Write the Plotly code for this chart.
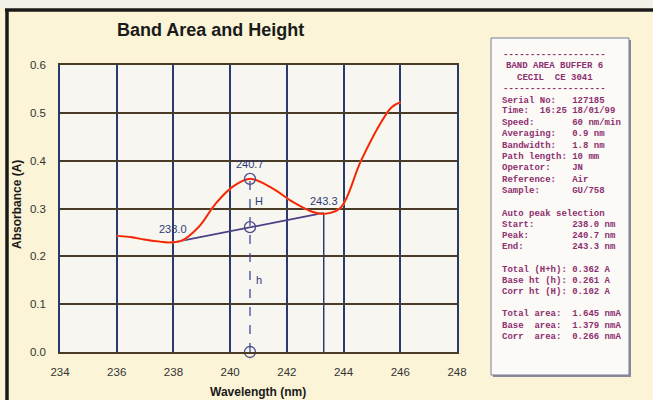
import plotly.graph_objects as go

# ---------------- data ----------------
wavelength = [236.0, 236.5, 237.0, 237.5, 237.9, 238.3, 238.9, 239.5, 240.1, 240.7,
              241.5, 242.2, 242.9, 243.35, 243.9, 244.6, 245.3, 245.7, 246.0]
absorbance = [0.243, 0.240, 0.235, 0.231, 0.229, 0.233, 0.262, 0.311, 0.346, 0.362,
              0.342, 0.314, 0.293, 0.289, 0.302, 0.398, 0.478, 0.512, 0.522]

start_wl, peak_wl, end_wl = 238.0, 240.7, 243.3
start_abs, end_abs = 0.229, 0.291
total_h, base_h = 0.362, 0.261

x_ticks = [234, 236, 238, 240, 242, 244, 246, 248]
y_ticks = [0.0, 0.1, 0.2, 0.3, 0.4, 0.5, 0.6]

info_lines = [
    "-------------------",
    "BAND AREA BUFFER 6",
    "CECIL  CE 3041",
    "-------------------",
    "Serial No:   127185",
    "Time:  16:25 18/01/99",
    "Speed:       60 nm/min",
    "Averaging:   0.9 nm",
    "Bandwidth:   1.8 nm",
    "Path length: 10 mm",
    "Operator:    JN",
    "Reference:   Air",
    "Sample:      GU/758",
    "",
    "Auto peak selection",
    "Start:       238.0 nm",
    "Peak:        240.7 nm",
    "End:         243.3 nm",
    "",
    "Total (H+h): 0.362 A",
    "Base ht (h): 0.261 A",
    "Corr ht (H): 0.102 A",
    "",
    "Total area:  1.645 nmA",
    "Base  area:  1.379 nmA",
    "Corr  area:  0.266 nmA",
]
centered_lines = {0, 1, 2, 3}

# ---------------- layout helpers (pixel -> paper) ----------------
W, H = 653, 400
L, R, T, B = 60, 457, 65, 352
def px(x):
    return (x - L) / (R - L)
def py(y):
    return (B - y) / (B - T)

navy = "#2b3a6e"
brown = "#4a3a28"
label_blue = "#2e3a7a"
purple = "#8e2f70"

fig = go.Figure()

# vertical line at end wavelength (down to axis)
fig.add_trace(go.Scatter(x=[end_wl, end_wl], y=[0, end_abs], mode="lines",
                         line=dict(color=navy, width=1.5), hoverinfo="skip", showlegend=False))
# dashed vertical at peak
fig.add_trace(go.Scatter(x=[peak_wl, peak_wl], y=[0, total_h], mode="lines",
                         line=dict(color="#3a4a9a", width=1.3, dash="dash"),
                         hoverinfo="skip", showlegend=False))
# baseline
fig.add_trace(go.Scatter(x=[start_wl, end_wl], y=[start_abs, end_abs], mode="lines",
                         line=dict(color="#4b3f86", width=1.8), hoverinfo="skip", showlegend=False))
# spectrum
fig.add_trace(go.Scatter(x=wavelength, y=absorbance, mode="lines",
                         line=dict(color="#f5b030", width=2.2, shape="spline", smoothing=1.0),
                         hoverinfo="skip", showlegend=False))
fig.add_trace(go.Scatter(x=wavelength, y=absorbance, mode="lines",
                         line=dict(color="#f41c1c", width=1.7, shape="spline", smoothing=1.0),
                         hoverinfo="skip", showlegend=False))
# markers
fig.add_trace(go.Scatter(x=[peak_wl, peak_wl, peak_wl], y=[total_h, base_h, 0.0], mode="markers",
                         marker=dict(symbol="circle-open", size=11, color="#4a4a8a",
                                     line=dict(width=1.3, color="#4a4a8a")),
                         cliponaxis=False, hoverinfo="skip", showlegend=False))

# point labels
for txt, xx, yy in [("238.0", start_wl, 0.257), ("240.7", peak_wl, 0.393),
                    ("243.3", end_wl, 0.316), ("H", 241.03, 0.316), ("h", 241.03, 0.151)]:
    fig.add_annotation(x=xx, y=yy, text=txt, showarrow=False, xanchor="center", yanchor="middle",
                       font=dict(family="Liberation Sans, Arial", size=11, color=label_blue))

shapes = [
    dict(type="rect", xref="paper", yref="paper", x0=px(0), x1=px(653), y0=py(8), y1=py(0),
         fillcolor="#f3f1e8", line=dict(width=0), layer="below"),
    dict(type="line", xref="paper", yref="paper", x0=px(5), x1=px(653), y0=py(10), y1=py(10),
         line=dict(color="#1a1a1a", width=3.5)),
    dict(type="line", xref="paper", yref="paper", x0=px(7), x1=px(7), y0=py(9), y1=py(400),
         line=dict(color="#1a1a1a", width=3.5)),
    # info box shadow + box
    dict(type="rect", xref="paper", yref="paper", x0=px(493), x1=px(631), y0=py(377), y1=py(40),
         fillcolor="#8a8aa0", line=dict(width=0)),
    dict(type="rect", xref="paper", yref="paper", x0=px(491), x1=px(629), y0=py(375), y1=py(38),
         fillcolor="#fbfaf6", line=dict(color="#7d7d98", width=1)),
]

# info text
line_y = [55, 66, 77.7, 89.3, 100.7, 111.3, 123, 134, 145.7, 157, 167.7, 179.7, 191, 202.5,
          214, 225, 235.7, 247, 258.5, 270, 280.7, 291.7, 303, 314.3, 325.7, 336.7]
for i, txt in enumerate(info_lines):
    if not txt:
        continue
    centered = i in centered_lines
    fig.add_annotation(xref="paper", yref="paper",
                       x=px(554.5) if centered else px(500), y=py(line_y[i]),
                       text="<b>" + txt.replace(" ", "&nbsp;") + "</b>", showarrow=False,
                       xanchor="center" if centered else "left", yanchor="middle",
                       font=dict(family="Liberation Mono, Courier New", size=9, color=purple))

# title and axis titles
fig.add_annotation(xref="paper", yref="paper", x=px(210), y=py(30), text="<b>Band Area and Height</b>",
                   showarrow=False, xanchor="center", yanchor="middle",
                   font=dict(family="Liberation Sans, Arial", size=18, color="#1a1a1a"))
fig.add_annotation(xref="paper", yref="paper", x=px(258), y=py(392), text="<b>Wavelength (nm)</b>",
                   showarrow=False, xanchor="center", yanchor="middle",
                   font=dict(family="Liberation Sans, Arial", size=12, color="#1a1a1a"))
fig.add_annotation(xref="paper", yref="paper", x=px(17), y=py(205), text="<b>Absorbance (A)</b>",
                   textangle=-90, showarrow=False, xanchor="center", yanchor="middle",
                   font=dict(family="Liberation Sans, Arial", size=12, color="#1a1a1a"))

fig.update_layout(
    width=W, height=H,
    margin=dict(l=L, r=W - R, t=T, b=H - B, pad=0),
    paper_bgcolor="#fbf4d6",
    plot_bgcolor="#f8f6f0",
    shapes=shapes,
    showlegend=False,
    xaxis=dict(range=[234, 248], tickvals=x_ticks, ticktext=[str(v) for v in x_ticks],
               showgrid=True, gridcolor=navy, gridwidth=1.5, zeroline=False,
               showline=True, linecolor=brown, linewidth=1.5, mirror=True,
               ticks="", ticklabelstandoff=8,
               tickfont=dict(family="Liberation Sans, Arial", size=11.5, color="#333333")),
    yaxis=dict(range=[0, 0.6], tickvals=y_ticks, ticktext=[f"{v:.1f}" for v in y_ticks],
               showgrid=True, gridcolor=brown, gridwidth=1.5, zeroline=False,
               showline=True, linecolor=navy, linewidth=1.5, mirror=True,
               ticks="", ticklabelstandoff=10,
               tickfont=dict(family="Liberation Sans, Arial", size=11.5, color="#333333")),
)

fig.write_html("out.html", config={"displayModeBar": False},
               post_script="document.body.style.margin='0px';document.body.style.background='#fbf4d6';")
